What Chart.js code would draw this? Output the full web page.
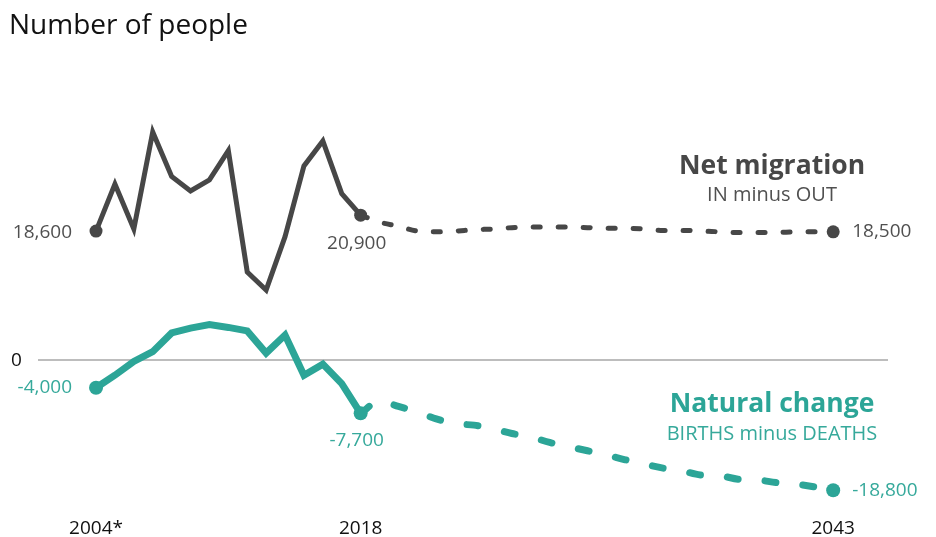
<!DOCTYPE html>
<html>
<head>
<meta charset="utf-8">
<script src="https://cdn.jsdelivr.net/npm/chart.js@4.4.1/dist/chart.umd.min.js"></script>
<style>
  html, body { margin: 0; padding: 0; background: #fff; }
  #wrap { width: 936px; height: 537px; position: relative; }
</style>
</head>
<body>
<div id="wrap"><canvas id="popChart"></canvas></div>
<script>
// data
const actualYears = [2004, 2005, 2006, 2007, 2008, 2009, 2010, 2011, 2012, 2013, 2014, 2015, 2016, 2017, 2018];
const migrationActual = [18600, 25400, 18900, 32900, 26500, 24400, 26000, 30200, 12700, 10100, 17800, 28000, 31600, 24000, 20900];
const naturalActual = [-4000, -2200, -200, 1200, 3900, 4600, 5100, 4700, 4200, 1000, 3600, -2200, -600, -3400, -7700];

const projYears = [2018, 2019, 2020, 2021, 2022, 2023, 2024, 2025, 2026, 2027, 2028, 2029, 2030,
                   2031, 2032, 2033, 2034, 2035, 2036, 2037, 2038, 2039, 2040, 2041, 2042, 2043];
const migrationProj = [20900, 19900, 19300, 18600, 18500, 18600, 18800, 18900, 19100, 19200, 19200, 19200, 19100,
                       19000, 19000, 18900, 18700, 18700, 18600, 18500, 18400, 18400, 18400, 18500, 18500, 18500];
const naturalProj = [-7700, -5900, -6700, -7500, -8500, -9200, -9400, -9900, -10600, -11100, -11900, -12500, -13100,
                     -13700, -14400, -15000, -15600, -16000, -16600, -16700, -17200, -17300, -17700, -17900, -18300, -18800];

const tickYears = [2004, 2018, 2043];
const tickLabels = ["2004*", "2018", "2043"];

const GREY = "#474747";
const TEAL = "#2ca597";
const TEAL_TEXT = "#36a99b";
const FONT = "'Open Sans', 'Noto Sans', sans-serif";

function toPoints(xs, ys) {
    return xs.map((x, i) => ({ x: x, y: ys[i] }));
}

// dot only on the ends we want
function endDots(n, first, r) {
    return (ctx) => {
        if (ctx.dataIndex === n - 1) return r;
        if (first && ctx.dataIndex === 0) return r;
        return 0;
    };
}

const labelPlugin = {
    id: "labels",
    afterDatasetsDraw(chart) {
        const c = chart.ctx;
        const xs = chart.scales.x;
        const ys = chart.scales.y;
        const px = v => xs.getPixelForValue(v);
        const py = v => ys.getPixelForValue(v);
        c.save();
        c.textBaseline = "middle";

        // title
        c.fillStyle = "#111";
        c.font = "28px " + FONT;
        c.textAlign = "left";
        c.fillText("Number of people", 9, 26);

        // zero
        c.font = "19px " + FONT;
        c.fillText("0", 11, py(0) + 1);

        // net migration
        const nLast = migrationProj.length - 1;
        c.fillStyle = "#505050";
        c.textAlign = "right";
        c.fillText(migrationActual[0].toLocaleString("en-US"), px(actualYears[0]) - 24, py(migrationActual[0]) + 1);
        c.textAlign = "center";
        c.fillText(migrationActual[migrationActual.length - 1].toLocaleString("en-US"), px(2018) - 4, py(20900) + 28);
        c.textAlign = "left";
        c.fillText(migrationProj[nLast].toLocaleString("en-US"), px(projYears[nLast]) + 19, py(migrationProj[nLast]));

        c.textAlign = "center";
        c.font = "bold 26.5px " + FONT;
        c.fillStyle = GREY;
        c.fillText("Net migration", 772, 166);
        c.font = "20px " + FONT;
        c.fillStyle = "#505050";
        c.fillText("IN minus OUT", 772, 195);

        // natural change
        c.font = "19px " + FONT;
        c.fillStyle = TEAL_TEXT;
        c.textAlign = "right";
        c.fillText(naturalActual[0].toLocaleString("en-US"), px(actualYears[0]) - 24, py(naturalActual[0]));
        c.textAlign = "center";
        c.fillText(naturalActual[naturalActual.length - 1].toLocaleString("en-US"), px(2018) - 4, py(-7700) + 27);
        c.textAlign = "left";
        c.fillText(naturalProj[nLast].toLocaleString("en-US"), px(projYears[nLast]) + 19, py(naturalProj[nLast]));

        c.textAlign = "center";
        c.font = "bold 26.5px " + FONT;
        c.fillStyle = TEAL;
        c.fillText("Natural change", 772, 404);
        c.font = "20px " + FONT;
        c.fillStyle = TEAL_TEXT;
        c.fillText("BIRTHS minus DEATHS", 772, 434);

        c.restore();
    }
};

const ctx = document.getElementById("popChart").getContext("2d");

new Chart(ctx, {
    type: "line",
    data: {
        datasets: [
            {
                label: "Net migration",
                data: toPoints(actualYears, migrationActual),
                borderColor: GREY,
                backgroundColor: GREY,
                borderWidth: 5,
                pointBorderWidth: 0,
                pointRadius: endDots(actualYears.length, true, 6.5),
                pointHoverRadius: 0,
                tension: 0
            },
            {
                label: "Net migration projection",
                data: toPoints(projYears, migrationProj),
                borderColor: GREY,
                backgroundColor: GREY,
                borderWidth: 5,
                borderDash: [7, 18],
                borderCapStyle: "round",
                pointBorderWidth: 0,
                pointRadius: endDots(projYears.length, false, 6.5),
                pointHoverRadius: 0,
                cubicInterpolationMode: "monotone"
            },
            {
                label: "Natural change",
                data: toPoints(actualYears, naturalActual),
                borderColor: TEAL,
                backgroundColor: TEAL,
                borderWidth: 7,
                pointBorderWidth: 0,
                pointRadius: endDots(actualYears.length, true, 7),
                pointHoverRadius: 0,
                tension: 0
            },
            {
                label: "Natural change projection",
                data: toPoints(projYears, naturalProj),
                borderColor: TEAL,
                backgroundColor: TEAL,
                borderWidth: 7,
                borderDash: [11, 27],
                borderCapStyle: "round",
                pointBorderWidth: 0,
                pointRadius: endDots(projYears.length, false, 7),
                pointHoverRadius: 0,
                cubicInterpolationMode: "monotone"
            }
        ]
    },
    options: {
        responsive: true,
        maintainAspectRatio: false,
        animation: false,
        layout: { padding: { left: 38, right: 48, top: 108, bottom: 0 } },
        scales: {
            x: {
                type: "linear",
                min: 2000.93,
                max: 2045.9,
                grid: { display: false, drawTicks: false },
                border: { display: false },
                afterBuildTicks: (scale) => { scale.ticks = tickYears.map(v => ({ value: v })); },
                afterFit: (scale) => { scale.height = 37; },
                ticks: {
                    autoSkip: false,
                    maxRotation: 0,
                    padding: 17,
                    color: "#111",
                    font: { size: 19, family: FONT },
                    callback: (v) => tickLabels[tickYears.indexOf(v)]
                }
            },
            y: {
                min: -20202,
                max: 36364,
                border: { display: false },
                grid: {
                    drawTicks: false,
                    lineWidth: 2,
                    color: (c) => (c.tick && c.tick.value === 0 ? "#bdbdbd" : "rgba(0,0,0,0)")
                },
                afterBuildTicks: (scale) => { scale.ticks = [{ value: 0 }]; },
                afterFit: (scale) => { scale.width = 0; },
                ticks: { display: false }
            }
        },
        plugins: {
            legend: { display: false },
            tooltip: { enabled: false }
        }
    },
    plugins: [labelPlugin]
});
</script>
</body>
</html>
